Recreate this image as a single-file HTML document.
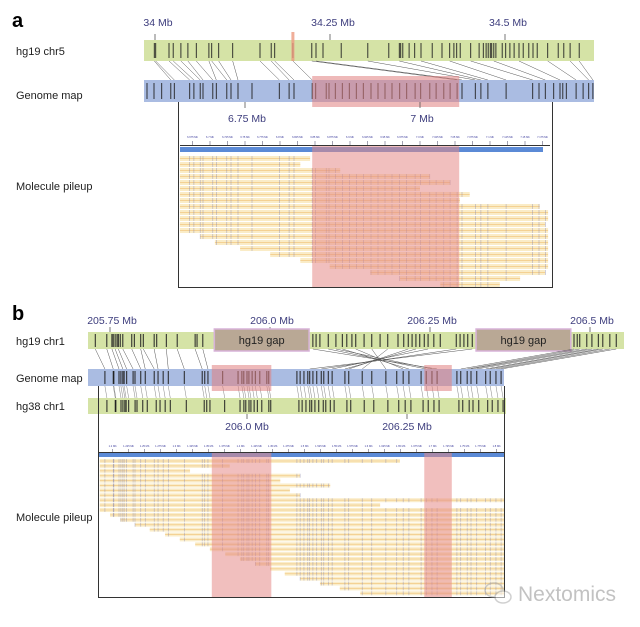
<!DOCTYPE html>
<html><head><meta charset="utf-8"><style>
html,body{margin:0;padding:0;background:#fff;overflow:hidden;}
svg{display:block;font-family:"Liberation Sans",sans-serif;}
</style></head><body>
<svg id="fig" width="640" height="627" viewBox="0 0 640 627">
<g id="layer"></g>
</svg>
<script>
// ---------- Panel a data ----------
const aHg19Kb=[-1,1,20,26,37,47,59,77,81,91,111,150,166,171,197,224,230,240,266,304,334,349,351,354,363,371,380,396,410,421,427,431,436,451,463,469,473,476,479,481,484,487,496,501,507,513,520,526,534,540,546,561,576,584,593,606];
const aMapKb=[-140,-130,-119,-106,-101,-79,-73,-64,-60,-46,-41,-26,-20,-10,10,49,63,70,96,101,116,120,129,139,149,159,169,180,190,200,210,221,231,243,251,264,273,284,293,303,310,329,337,347,373,411,420,429,441,450,454,459,473,483,491,497];
const aPairHg=[-1,1,20,26,37,47,59,77,81,91,111,150,166,171,197,224,230,304,349,380,421,451,484,520,561,593,606];
const aPairMap=[-106,-101,-79,-73,-64,-60,-46,-41,-26,-20,-10,49,63,70,96,303,310,329,337,347,373,411,429,450,473,491,497];
const aHgTickLabels=["34 Mb","34.25 Mb","34.5 Mb"];
const aHgTickKb=[0,250,500];
const aMapTickLabels=["6.75 Mb","7 Mb"];
const aMapTickKb=[0,250];
const aRed=[96,306];
const aHgMark=197;
const aMolStart=[-93,-93,-93,-93,-93,-93,-93,-93,-93,-93,-93,-93,-93,-64,-43,-7,36,79,121,179,221,279];
const aMolEnd=[93,79,136,264,293,250,321,307,421,433,433,429,433,433,433,433,433,433,433,429,393,364];
const aSmallLabels=["6.675 Mb","6.7 Mb","6.725 Mb","6.75 Mb","6.775 Mb","6.8 Mb","6.825 Mb","6.85 Mb","6.875 Mb","6.9 Mb","6.925 Mb","6.95 Mb","6.975 Mb","7.0 Mb","7.025 Mb","7.05 Mb","7.075 Mb","7.1 Mb","7.125 Mb","7.15 Mb","7.175 Mb"];
const aSmallKb=[-75,-50,-25,0,25,50,75,100,125,150,175,200,225,250,275,300,325,350,375,400,425];
// ---------- Panel b data ----------
const bHg19Kb=[-23,-5,3,5,8,11,13,16,20,34,38,48,52,69,73,88,105,133,136,145,317,322,328,341,353,363,370,378,384,397,409,422,434,450,459,466,472,478,484,491,497,506,516,541,547,553,559,566,725,730,734,745,753,763,770,781,791];
const bMapKb=[-222,-209,-208,-200,-197,-194,-192,-188,-178,-175,-166,-159,-145,-139,-131,-123,-98,-70,-66,-61,-38,-14,-8,-5,0,3,8,13,20,31,34,78,83,89,95,98,103,109,116,120,127,133,153,159,180,195,217,234,244,253,272,280,289,297,328,334,344,350,359,373,380,389,397];
const bPairHg=[-23,-5,3,8,13,20,34,48,52,69,88,105,133,145,317,341,353,363,384,409,434,466,478,497,541,566,725,734,745,753,763,770,781,791];
const bPairMap=[-222,-209,-200,-194,-188,-178,-166,-159,-145,-139,-123,-98,-70,-61,297,280,289,253,244,217,180,159,153,133,116,98,334,344,350,359,373,380,389,397];
const bHgTickLabels=["205.75 Mb","206.0 Mb","206.25 Mb","206.5 Mb"];
const bHgTickKb=[0,250,500,750];
const b38TickLabels=["206.0 Mb","206.25 Mb"];
const b38TickKb=[0,250];
const bGaps=[[163,311],[572,720]];
const bRed=[[-55,38],[277,320]];
const bMolStart=[-230,-230,-230,-230,-230,-230,-230,-230,-230,-230,-230,-214,-198,-175,-152,-128,-105,-81,-58,-34,-11,13,36,59,83,114,145,177];
const bMolEnd=[239,-27,-89,83,52,130,67,83,402,208,402,402,402,402,402,402,402,402,402,402,402,402,402,402,402,402,402,402];
const bSmallLabels=["1.2 Mb","1.225 Mb","1.25 Mb","1.275 Mb","1.3 Mb","1.325 Mb","1.35 Mb","1.375 Mb","1.4 Mb","1.425 Mb","1.45 Mb","1.475 Mb","1.5 Mb","1.525 Mb","1.55 Mb","1.575 Mb","1.6 Mb","1.625 Mb","1.65 Mb","1.675 Mb","1.7 Mb","1.725 Mb","1.75 Mb","1.775 Mb","1.8 Mb"];
const bSmallKb=[-210,-185,-160,-135,-110,-85,-60,-35,-10,15,40,65,90,115,140,165,190,215,240,265,290,315,340,365,390];

// ---------- axis functions ----------
const xA19=k=>155+k*0.7, xAMap=k=>245+k*0.7;
const xB19=k=>110+k*0.64, xBMap=k=>247+k*0.64;

const NS="http://www.w3.org/2000/svg";
const L=document.getElementById('layer');
function mk(tag,at,parent){const e=document.createElementNS(NS,tag);for(const k in at)e.setAttribute(k,at[k]);(parent||L).appendChild(e);return e;}
function txt(x,y,s,size,fill,anchor,weight){const t=mk('text',{x:x,y:y,'font-size':size,fill:fill,'text-anchor':anchor||'start','font-weight':weight||'normal'});t.textContent=s;return t;}

// ===== PANEL A =====
let t=txt(12,27,'a',20,'#000','start','bold');


t=txt(16,55,'hg19 chr5',11,'#222');


t=txt(16,99,'Genome map',11,'#222');


t=txt(16,190,'Molecule pileup',11,'#222');


aHgTickKb.forEach((k,i)=>{const x=xA19(k);
 const l=mk('line',{x1:x,x2:x,y1:34,y2:40,stroke:'#555','stroke-width':0.8});
 
 
 const tt=txt(x+3,26,aHgTickLabels[i],10.5,'#3d3d7d','middle');
 
 });
let r=mk('rect',{x:144,y:40,width:450,height:21,fill:'#d5e3a6'});


aHg19Kb.forEach(k=>{const x=xA19(k);const l=mk('line',{x1:x,x2:x,y1:43,y2:58,stroke:'#222','stroke-width':0.9});
 
 });
r=mk('rect',{x:xA19(aHgMark)-1.5,y:32,width:3,height:29,fill:'#ec9a80',opacity:0.8});


aPairHg.forEach((k,i)=>{const l=mk('line',{x1:xA19(k),y1:61,x2:xAMap(aPairMap[i]),y2:80,stroke:'#555','stroke-width':0.5});
 
 });
r=mk('rect',{x:144,y:80,width:450,height:22,fill:'#aabce2'});


aMapKb.forEach(k=>{const x=xAMap(k);const l=mk('line',{x1:x,x2:x,y1:83,y2:99,stroke:'#222','stroke-width':0.9});
 
 });
r=mk('rect',{x:xAMap(aRed[0]),y:76,width:xAMap(aRed[1])-xAMap(aRed[0]),height:31,fill:'#e07f80',opacity:0.55});


aMapTickKb.forEach((k,i)=>{const x=xAMap(k);
 const l=mk('line',{x1:x,x2:x,y1:102,y2:108,stroke:'#555','stroke-width':0.8});
 
 
 const tt=txt(x+2,122,aMapTickLabels[i],10.5,'#3d3d7d','middle');
 
 });
// pileup a
aSmallKb.forEach((k,i)=>{const x=xAMap(k);const tt=txt(x,138,aSmallLabels[i],2.6,'#3d3d9d','middle');
 
 
 const l=mk('line',{x1:x,x2:x,y1:141,y2:145,stroke:'#446','stroke-width':0.5});
 
 });
r=mk('rect',{x:180,y:145,width:370,height:1,fill:'#333'});


r=mk('rect',{x:180,y:147,width:363,height:5,fill:'#5b8ad6'});


aMolStart.forEach((s,i)=>{const y=156+i*6;const x1=xAMap(s),x2=xAMap(aMolEnd[i]);
 const m=mk('rect',{x:x1,y:y,width:x2-x1,height:5,fill:'#f8e6b4',opacity:0.75});
 
 
 const m2=mk('rect',{x:x1,y:y+2,width:x2-x1,height:1,fill:'#f0c070',opacity:0.6});
 
 
 aMapKb.forEach(k=>{if(k>=s&&k<=aMolEnd[i]){const x=xAMap(k);const l=mk('line',{x1:x,x2:x,y1:y,y2:y+5,stroke:'#8080b0','stroke-width':0.6,opacity:0.6});
  
  }});});
r=mk('rect',{x:xAMap(aRed[0]),y:146,width:xAMap(aRed[1])-xAMap(aRed[0]),height:141,fill:'#e58a88',opacity:0.55});


r=mk('path',{d:'M178.5,102 V287.5 H552.5 V102',fill:'none',stroke:'#333','stroke-width':1});



// ===== PANEL B =====
t=txt(12,320,'b',20,'#000','start','bold');


t=txt(16,345,'hg19 chr1',11,'#222');


t=txt(16,382,'Genome map',11,'#222');


t=txt(16,410,'hg38 chr1',11,'#222');


t=txt(16,521,'Molecule pileup',11,'#222');


bHgTickKb.forEach((k,i)=>{const x=xB19(k);
 const l=mk('line',{x1:x,x2:x,y1:327,y2:333,stroke:'#555','stroke-width':0.8});
 
 
 const tt=txt(x+2,324,bHgTickLabels[i],10.5,'#3d3d7d','middle');
 
 });
r=mk('rect',{x:88,y:332,width:536,height:17,fill:'#d5e3a6'});


bHg19Kb.forEach(k=>{const x=xB19(k);const l=mk('line',{x1:x,x2:x,y1:334,y2:347,stroke:'#222','stroke-width':1});
 
 });
bGaps.forEach(g=>{const x1=xB19(g[0]),x2=xB19(g[1]);
 const gr=mk('rect',{x:x1,y:329,width:x2-x1,height:22,fill:'#b9a895',stroke:'#d7b2d8','stroke-width':1.5});
 
 
 const tt=txt((x1+x2)/2,344,'hg19 gap',11,'#222','middle');
 
 });
bPairHg.forEach((k,i)=>{const l=mk('line',{x1:xB19(k),y1:349,x2:xBMap(bPairMap[i]),y2:369,stroke:'#555','stroke-width':0.5});
 
 });
bMapKb.forEach(k=>{const x=xBMap(k);const l=mk('line',{x1:x,y1:386,x2:x+2,y2:398,stroke:'#666','stroke-width':0.4});
 
 });
r=mk('rect',{x:88,y:369,width:416,height:17,fill:'#aabce2'});


bMapKb.forEach(k=>{const x=xBMap(k);const l=mk('line',{x1:x,x2:x,y1:371,y2:384,stroke:'#222','stroke-width':1});
 
 });
r=mk('rect',{x:88,y:398,width:418,height:16,fill:'#d5e3a6'});


bMapKb.forEach(k=>{const x=xBMap(k)+2;const l=mk('line',{x1:x,x2:x,y1:400,y2:412,stroke:'#222','stroke-width':1});
 
 });
bRed.forEach(g=>{const x1=xBMap(g[0]),x2=xBMap(g[1]);
 const rr=mk('rect',{x:x1,y:365,width:x2-x1,height:26,fill:'#e07f80',opacity:0.55});
 
 });
b38TickKb.forEach((k,i)=>{const x=xBMap(k);
 const l=mk('line',{x1:x,x2:x,y1:414,y2:419,stroke:'#555','stroke-width':0.8});
 
 
 const tt=txt(x,430,b38TickLabels[i],10.5,'#3d3d7d','middle');
 
 });
// pileup b
bSmallKb.forEach((k,i)=>{const x=xBMap(k);const tt=txt(x,447,bSmallLabels[i],2.6,'#3d3d9d','middle');
 
 
 const l=mk('line',{x1:x,x2:x,y1:449,y2:453,stroke:'#446','stroke-width':0.5});
 
 });
r=mk('rect',{x:99,y:452,width:405,height:1,fill:'#333'});


r=mk('rect',{x:99,y:453,width:405,height:4,fill:'#5b8ad6'});


bMolStart.forEach((s,i)=>{const y=459+i*4.9;const x1=xBMap(s),x2=xBMap(bMolEnd[i]);
 const m=mk('rect',{x:x1,y:y,width:x2-x1,height:4,fill:'#f8e6b4',opacity:0.7});
 
 
 const m2=mk('rect',{x:x1,y:y+1.5,width:x2-x1,height:1,fill:'#f0c070',opacity:0.6});
 
 
 bMapKb.forEach(k=>{if(k>=s&&k<=bMolEnd[i]){const x=xBMap(k);const l=mk('line',{x1:x,x2:x,y1:y,y2:y+4,stroke:'#8080b0','stroke-width':0.6,opacity:0.6});
  
  }});});
bRed.forEach(g=>{const x1=xBMap(g[0]),x2=xBMap(g[1]);
 const rr=mk('rect',{x:x1,y:453,width:x2-x1,height:144,fill:'#e58a88',opacity:0.55});
 
 });
r=mk('path',{d:'M98.5,386 V597.5 H504.5 V386',fill:'none',stroke:'#333','stroke-width':1});



// watermark
const wg=mk('g',{opacity:0.55});


mk('ellipse',{cx:494,cy:590,rx:9,ry:7,fill:'none',stroke:'#aaa','stroke-width':1.5},wg);
mk('ellipse',{cx:503,cy:597,rx:8,ry:6,fill:'#fff',stroke:'#aaa','stroke-width':1.5},wg);
const wt=txt(518,601,'Nextomics',21,'#9a9a9a');
wt.setAttribute('opacity','0.6');


</script>
</body></html>
